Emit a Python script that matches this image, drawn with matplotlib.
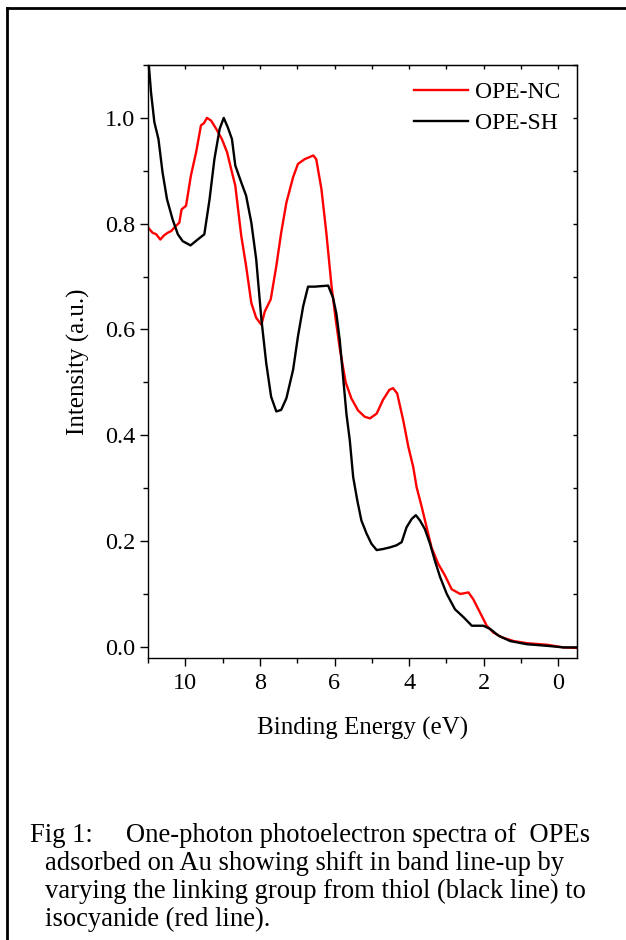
import matplotlib
matplotlib.use('Agg')
import matplotlib.pyplot as plt
from matplotlib.lines import Line2D
from matplotlib.ticker import MultipleLocator

plt.rcParams['font.family'] = ['Liberation Serif', 'DejaVu Serif']

# OPE-NC (red), binding energy (eV) vs intensity
nc_x = [11.0, 10.88, 10.78, 10.67, 10.57, 10.47, 10.38, 10.29, 10.16, 10.10, 9.98, 9.85, 9.71,
        9.58, 9.50, 9.42, 9.31, 9.17, 9.02, 8.88, 8.77, 8.66, 8.50, 8.37, 8.23, 8.10, 7.96,
        7.87, 7.71, 7.56, 7.43, 7.29, 7.11, 6.98, 6.80, 6.70, 6.57, 6.49, 6.35, 6.22, 6.08,
        5.97, 5.85, 5.70, 5.55, 5.37, 5.19, 5.05, 4.87, 4.70, 4.53, 4.43, 4.32, 4.16, 4.02,
        3.89, 3.80, 3.66, 3.53, 3.40, 3.22, 3.04, 2.86, 2.63, 2.41, 2.28, 2.10, 1.92, 1.74,
        1.51, 1.20, 0.84, 0.30, -0.14, -0.50]
nc_y = [0.793, 0.783, 0.780, 0.770, 0.778, 0.783, 0.786, 0.793, 0.802, 0.827, 0.834, 0.891, 0.935,
        0.986, 0.990, 1.000, 0.995, 0.979, 0.960, 0.935, 0.903, 0.872, 0.777, 0.720, 0.650, 0.622, 0.609,
        0.634, 0.657, 0.720, 0.783, 0.840, 0.888, 0.913, 0.922, 0.925, 0.929, 0.922, 0.865, 0.783, 0.682,
        0.620, 0.560, 0.500, 0.470, 0.447, 0.435, 0.432, 0.441, 0.467, 0.486, 0.489, 0.479, 0.429, 0.378,
        0.340, 0.302, 0.264, 0.226, 0.188, 0.157, 0.135, 0.109, 0.100, 0.103, 0.090, 0.065, 0.040, 0.027,
        0.018, 0.011, 0.007, 0.004, -0.001, -0.002]

# OPE-SH (black)
sh_x = [11.0, 10.92, 10.83, 10.72, 10.61, 10.49, 10.34, 10.20, 10.07, 9.86, 9.67, 9.49, 9.35,
        9.22, 9.08, 8.97, 8.86, 8.75, 8.66, 8.50, 8.37, 8.23, 8.10, 7.96, 7.83, 7.70, 7.56,
        7.43, 7.29, 7.11, 6.98, 6.84, 6.71, 6.53, 6.35, 6.17, 6.04, 5.95, 5.86, 5.77, 5.68,
        5.59, 5.50, 5.39, 5.28, 5.14, 5.01, 4.87, 4.70, 4.52, 4.34, 4.20, 4.07, 3.93, 3.82,
        3.71, 3.58, 3.44, 3.31, 3.17, 2.99, 2.77, 2.54, 2.32, 2.01, 1.83, 1.60, 1.29, 0.84,
        0.30, -0.14, -0.50]
sh_y = [1.12, 1.049, 0.992, 0.960, 0.897, 0.846, 0.808, 0.780, 0.767, 0.759, 0.770, 0.780, 0.846,
        0.922, 0.979, 1.000, 0.982, 0.960, 0.910, 0.878, 0.853, 0.802, 0.733, 0.619, 0.536, 0.473, 0.445,
        0.448, 0.470, 0.524, 0.587, 0.644, 0.681, 0.681, 0.682, 0.683, 0.660, 0.630, 0.580, 0.510, 0.440,
        0.390, 0.321, 0.277, 0.239, 0.214, 0.195, 0.183, 0.185, 0.188, 0.192, 0.198, 0.226, 0.242, 0.249,
        0.239, 0.223, 0.195, 0.163, 0.132, 0.100, 0.071, 0.056, 0.040, 0.040, 0.034, 0.021, 0.011, 0.005,
        0.002, -0.001, -0.001]

caption = ["Fig 1:     One-photon photoelectron spectra of  OPEs",
           "adsorbed on Au showing shift in band line-up by",
           "varying the linking group from thiol (black line) to",
           "isocyanide (red line)."]

W, H = 626, 940
fig = plt.figure(figsize=(W / 100, H / 100), dpi=100)
ax = fig.add_axes([148 / W, 1 - 658 / H, (577 - 148) / W, (658 - 65) / H])

ax.plot(nc_x, nc_y, color='red', lw=1.7, label='OPE-NC')
ax.plot(sh_x, sh_y, color='black', lw=1.7, label='OPE-SH')

ax.set_xlim(11, -0.5)
ax.set_ylim(-0.021, 1.1)
ax.xaxis.set_major_locator(MultipleLocator(2))
ax.xaxis.set_minor_locator(MultipleLocator(1))
ax.yaxis.set_major_locator(MultipleLocator(0.2))
ax.yaxis.set_minor_locator(MultipleLocator(0.1))
ax.yaxis.set_major_formatter(matplotlib.ticker.FormatStrFormatter('%.1f'))
ax.tick_params(which='major', direction='out', length=6, width=1, labelsize=17.5, pad=3)
ax.tick_params(axis='x', which='major', pad=5)
ax.tick_params(which='minor', direction='out', length=3.5, width=1)

top = ax.secondary_xaxis('top')
top.xaxis.set_major_locator(MultipleLocator(1))
top.tick_params(direction='in', length=3, width=1, labeltop=False)
right = ax.secondary_yaxis('right')
right.yaxis.set_major_locator(MultipleLocator(0.1))
right.tick_params(direction='in', length=3, width=1, labelright=False)

for sp in ax.spines.values():
    sp.set_linewidth(1)

ax.set_xlabel('Binding Energy (eV)', fontsize=18, labelpad=16)
ax.set_ylabel('Intensity (a.u.)', fontsize=18, labelpad=11)

ax.legend(loc='upper right', frameon=False, fontsize=17, handlelength=2.3,
          handletextpad=0.3, labelspacing=0.4, borderaxespad=0.05, borderpad=0.65)

# caption
fig.text(30 / W, 1 - 842 / H, caption[0], fontsize=19.2, va='baseline', ha='left')
for i, line in enumerate(caption[1:]):
    fig.text(45 / W, 1 - (870 + 28 * i) / H, line, fontsize=19.2, va='baseline', ha='left')

# page border (left and top)
fig.add_artist(Line2D([7 / W, 7 / W], [0, 1 - 8 / H], color='black', lw=2))
fig.add_artist(Line2D([7 / W, 1], [1 - 8 / H, 1 - 8 / H], color='black', lw=2))

fig.savefig('out.png', dpi=100)
